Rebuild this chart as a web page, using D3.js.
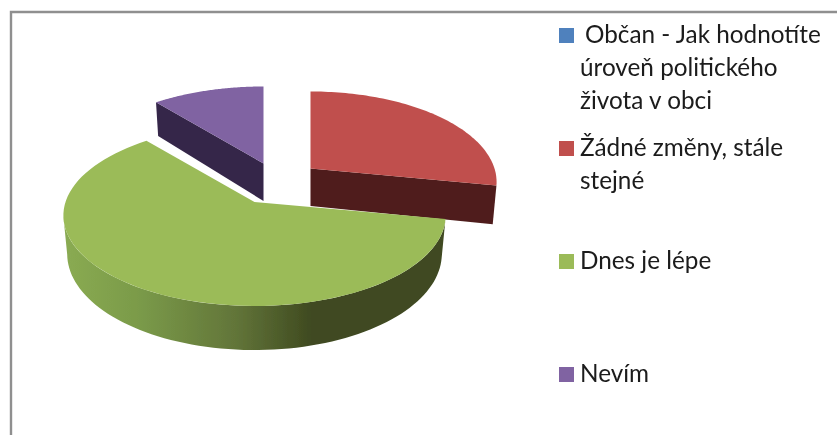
<!DOCTYPE html>
<html><head><meta charset="utf-8">
<script src="https://cdn.jsdelivr.net/npm/d3@7"></script>
<style>html,body{margin:0;padding:0;background:#fff;overflow:hidden}svg{display:block}</style>
</head><body><svg id="c" width="837" height="435"></svg>
<script>
const categories = ["Občan - Jak hodnotíte", "Žádné změny, stále", "Dnes je lépe", "Nevím"];
const continuationLines = [["úroveň politického", "života v obci"], ["stejné"], [], []];
const values = [0, 28, 61, 11];
const topColors = ["#4f81bd", "#c0504d", "#9bbb59", "#8064a2"];
const cutColors = ["#2c4d75", "#4f1d1c", "#3f4a20", "#35264a"];
const centers = [[254.5, 202], [310.5, 168.5], [254.5, 202], [263.5, 163.5]];
const radii = [189, 184, 189, 188];
const legendY = [28, 141, 254, 367];

const svg = d3.select("#c");
const defs = svg.append("defs");
defs.append("filter").attr("id", "soft").append("feGaussianBlur").attr("stdDeviation", 0.45);
const grad = defs.append("linearGradient").attr("id", "wall").attr("gradientUnits", "userSpaceOnUse")
  .attr("x1", 64).attr("x2", 445).attr("y1", 0).attr("y2", 0);
[[0, "#8aab52"], [0.2, "#7a9a49"], [0.45, "#627539"], [0.65, "#3f4a20"], [1, "#3f4a20"]]
  .forEach(([o, c]) => grad.append("stop").attr("offset", o).attr("stop-color", c));

const root = svg.append("g").attr("filter", "url(#soft)");
root.append("path").attr("d", "M11,435V12H837").attr("fill", "none").attr("stroke", "#8f8f8f").attr("stroke-width", 2.4);

const Ry = 88.5, persp = 0.149, depth = 37.5;
const arcs = d3.pie().sort(null).value(d => d)(values);
const project = (i, a, r, lower) => {
  const c = centers[i];
  const u = r * Math.sin(a), v = -r * Math.cos(a), s = 1 / (1 - persp * v);
  const k = lower ? 0.98 : 1;
  return [c[0] + u * s * radii[i] * k, c[1] + v * s * Ry + (lower ? depth * s : 0)];
};
const line = d3.line();
const rim = (i, a0, a1, lower) => d3.range(0, 81).map(n => project(i, a0 + (a1 - a0) * n / 80, 1, lower));

const drawOrder = [3, 1, 2];
drawOrder.forEach(i => {
  const a = arcs[i], g = root.append("g");
  const apex = project(i, 0, 0, false), apexLow = project(i, 0, 0, true);
  if (i === 1) {
    const e = project(i, a.endAngle, 1, false), eLow = project(i, a.endAngle, 1, true);
    g.append("path").attr("d", line([apex, e, eLow, apexLow]) + "Z").attr("fill", cutColors[i]);
  }
  if (i === 3) {
    const s = project(i, a.startAngle, 1, false), sLow = project(i, a.startAngle, 1, true);
    g.append("path").attr("d", line([apex, s, sLow, apexLow]) + "Z").attr("fill", cutColors[i]);
  }
  if (i === 2) {
    const front0 = a.startAngle, front1 = Math.PI * 2 * 261 / 360;
    g.append("path")
      .attr("d", line(rim(i, front0, front1, false).concat(rim(i, front1, front0, true))) + "Z")
      .attr("fill", "url(#wall)");
  }
  g.append("path").attr("d", line([apex].concat(rim(i, a.startAngle, a.endAngle, false))) + "Z")
    .attr("fill", topColors[i]);
});

const legend = svg.append("g").attr("filter", "url(#soft)")
  .attr("font-family", "Lato, Carlito, sans-serif").attr("font-size", 24.3).attr("fill", "#1a1a1a");
categories.forEach((name, i) => {
  legend.append("rect").attr("x", 559).attr("y", legendY[i]).attr("width", 15).attr("height", 15).attr("fill", topColors[i]);
  legend.append("text").attr("x", i === 0 ? 585 : 580).attr("y", legendY[i] + 15).text(name);
  continuationLines[i].forEach((t, j) => legend.append("text").attr("x", 580).attr("y", legendY[i] + 15 + 33 * (j + 1)).text(t));
});
</script></body></html>
